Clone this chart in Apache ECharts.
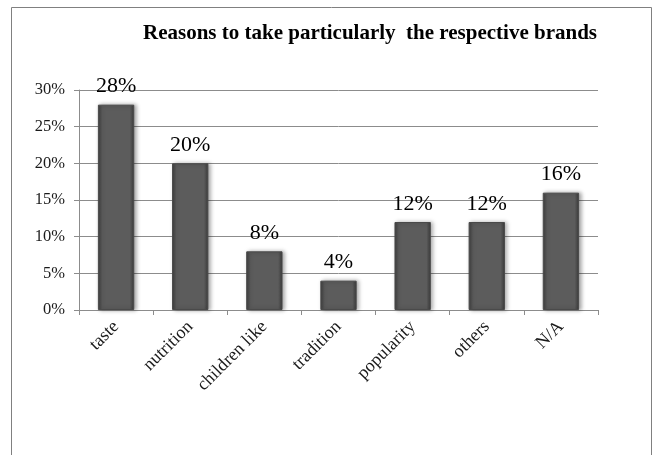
<!DOCTYPE html>
<html><head><meta charset="utf-8">
<script src="https://cdn.jsdelivr.net/npm/echarts@6/dist/echarts.min.js"></script>
<style>html,body{margin:0;padding:0;background:#fff}#c{width:655px;height:455px}</style>
</head><body><div id="c"></div>
<script>
const categories = ['taste', 'nutrition', 'children like', 'tradition', 'popularity', 'others', 'N/A'];
const values = [28, 20, 8, 4, 12, 12, 16];
const yTicks = [0, 5, 10, 15, 20, 25, 30];
const titleText = 'Reasons to take particularly  the respective brands';

const chart = echarts.init(document.getElementById('c'), null, {renderer: 'canvas'});
const serif = '"Liberation Serif", "Times New Roman", serif';
chart.setOption({
  animation: false,
  backgroundColor: '#fff',
  graphic: [{
    type: 'rect', shape: {x: 11.5, y: 7.5, width: 640, height: 460},
    style: {fill: 'none', stroke: '#808080', lineWidth: 1}, z: -1
  }],
  title: {
    text: titleText, left: 365, top: 18, textAlign: 'center',
    textStyle: {fontFamily: serif, fontWeight: 'bold', fontSize: 21, color: '#000'}
  },
  grid: {left: 79, right: 57, top: 90, bottom: 145},
  xAxis: {
    type: 'category', data: categories,
    axisLine: {lineStyle: {color: '#8c8c8c'}},
    axisTick: {show: true, length: 5, lineStyle: {color: '#8c8c8c'}},
    axisLabel: {rotate: 45, margin: 14, fontFamily: serif, fontSize: 18, color: '#1a1a1a', interval: 0}
  },
  yAxis: {
    type: 'value', min: yTicks[0], max: yTicks[yTicks.length - 1], interval: 5,
    axisLine: {show: true, lineStyle: {color: '#8c8c8c'}},
    axisTick: {show: true, length: 5, lineStyle: {color: '#8c8c8c'}},
    splitLine: {lineStyle: {color: '#8c8c8c'}},
    axisLabel: {formatter: '{value}%', margin: 14, fontFamily: serif, fontSize: 16.5, color: '#1a1a1a'}
  },
  series: [{
    type: 'bar', data: values, barWidth: '49%',
    itemStyle: {
      color: new echarts.graphic.LinearGradient(0, 0, 1, 0, [
        {offset: 0, color: '#3e3e3e'}, {offset: 0.12, color: '#5c5c5c'},
        {offset: 0.88, color: '#5c5c5c'}, {offset: 1, color: '#3a3a3a'}
      ]),
      borderColor: '#4a4a4a', borderWidth: 1,
      shadowColor: 'rgba(0,0,0,0.35)', shadowBlur: 4, shadowOffsetX: 2
    },
    label: {
      show: true, position: 'top', distance: 7, formatter: '{c}%',
      fontFamily: serif, fontSize: 22, color: '#000'
    }
  }]
});
</script></body></html>
